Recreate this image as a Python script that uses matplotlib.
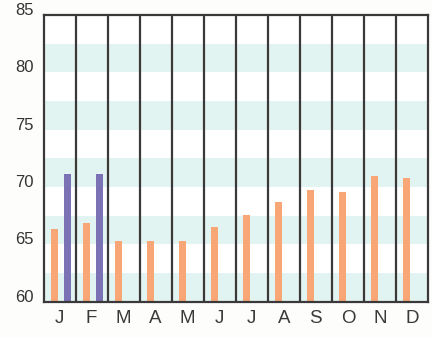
import matplotlib.pyplot as plt
import numpy as np

months = ["J", "F", "M", "A", "M", "J", "J", "A", "S", "O", "N", "D"]
orange_vals = [66.3, 66.9, 65.3, 65.3, 65.3, 66.5, 67.6, 68.7, 69.7, 69.6, 71.0, 70.8]
blue_vals = [71.1, 71.1, None, None, None, None, None, None, None, None, None, None]
y_ticks = [60, 65, 70, 75, 80, 85]
band_ranges = [(60, 62.5), (65, 67.5), (70, 72.5), (75, 77.5), (80, 82.5)]

ORANGE = "#F8A676"
BLUE = "#7A72B4"
BAND = "#E2F4F1"
LINE = "#3a3838"

plt.rcParams["font.family"] = ["Liberation Sans", "DejaVu Sans"]

fig = plt.figure(figsize=(4.32, 3.38), dpi=100)
fig.patch.set_facecolor("#fdfdfb")
ax = fig.add_axes([0.1007, 0.1074, 0.89, 0.848])
ax.set_facecolor("white")

x = np.arange(len(months))

for lo, hi in band_ranges:
    ax.axhspan(lo, hi, color=BAND, lw=0, zorder=0)

ax.bar(x - 0.16, [v - 60 for v in orange_vals], bottom=60, width=0.22,
       color=ORANGE, zorder=2)
bx = [i + 0.25 for i, v in enumerate(blue_vals) if v is not None]
bv = [v - 60 for v in blue_vals if v is not None]
ax.bar(bx, bv, bottom=60, width=0.2, color=BLUE, zorder=2)

for i in range(1, len(months)):
    ax.axvline(i - 0.5, color=LINE, lw=1.6, zorder=3)

ax.set_xlim(-0.5, len(months) - 0.5)
ax.set_ylim(60, 85)
for s in ax.spines.values():
    s.set_color(LINE)
    s.set_linewidth(1.6)
    s.set_zorder(4)

ax.set_yticks(y_ticks)
ax.set_yticklabels([str(t) for t in y_ticks], fontsize=12, color="#333333")
for lbl in ax.get_yticklabels():
    lbl.set_verticalalignment("baseline")
ax.set_xticks(x)
ax.set_xticklabels(months, fontsize=13.5, color="#3a3a3a")
ax.tick_params(axis="both", length=0)
ax.tick_params(axis="y", pad=7)
ax.tick_params(axis="x", pad=6)

plt.savefig("out.png", dpi=100, facecolor=fig.get_facecolor())
